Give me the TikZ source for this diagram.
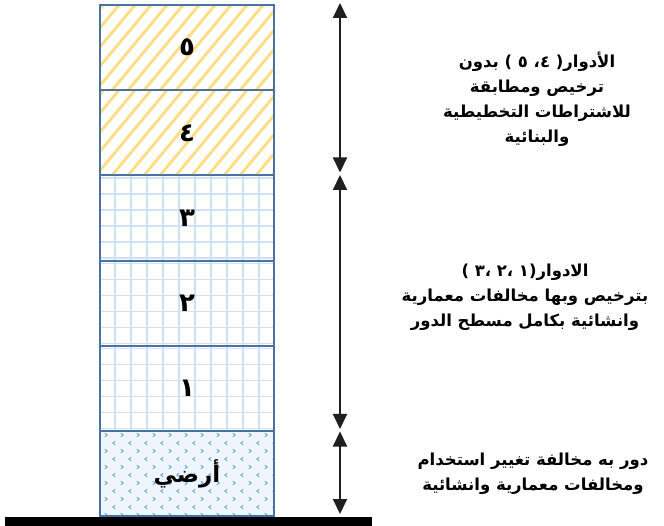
\documentclass[tikz,border=0pt]{standalone}
\usepackage{fontspec}
\usetikzlibrary{arrows.meta, positioning, calc}
\newfontfamily\arabicfont[Script=Arabic]{DejaVu Sans}
\TeXXeTstate=1
\definecolor{cFrame}{RGB}{74,114,160}
\definecolor{cStripe}{RGB}{253,222,135}
\definecolor{cGrid}{RGB}{208,225,244}
\definecolor{cGround}{RGB}{238,245,252}
\definecolor{cMark}{RGB}{80,145,215}
\tikzset{
	floorbox/.style   ={rectangle, draw=cFrame, line width=2pt, minimum width=174pt, minimum height=85.2pt, outer sep=0pt, inner sep=0pt, font=\arabicfont\bfseries\fontsize{26}{28}\selectfont},
	stripefloor/.style={fill=white, path picture={
			\foreach \k in {0,...,18}
				\draw[cStripe, line width=3pt] ($(path picture bounding box.south west)+(\k*16pt-100pt,0pt)$) -- ++(100pt,120pt);}},
	gridfloor/.style  ={fill=white, path picture={
			\draw[cGrid, line width=1.6pt] (path picture bounding box.south west) grid[step=16pt] (path picture bounding box.north east);}},
	groundfloor/.style={fill=cGround, path picture={
			\foreach \r in {0,...,10}
				\foreach \c in {0,...,10}{
					\ifodd\r
						\draw[cMark, line width=0.7pt] ($(path picture bounding box.north west)+(\c*16pt+14pt,-\r*8pt-4pt)$) ++(1.2pt,1.8pt) -- ++(-2.4pt,-1.8pt) -- ++(2.4pt,-1.8pt);
					\else
						\draw[cMark, line width=0.7pt] ($(path picture bounding box.north west)+(\c*16pt+6pt,-\r*8pt-4pt)$) ++(-1.2pt,1.8pt) -- ++(2.4pt,-1.8pt) -- ++(-2.4pt,-1.8pt);
					\fi}}},
	dimarrow/.style   ={{Triangle[length=15pt,width=14pt]}-{Triangle[length=15pt,width=14pt]}, line width=2pt, draw=black!88},
	note/.style       ={align=center, inner sep=0pt, font=\arabicfont\bfseries\fontsize{16.5}{25}\selectfont},
}
\begin{document}
\begin{tikzpicture}[x=1pt, y=-1pt]
	\useasboundingbox (0,0) rectangle (664,526);
	% floors, top to bottom
	\node[floorbox, stripefloor] (f5) at (187,47.6) {\beginR ٥\endR};
	\node[floorbox, stripefloor, below=0pt of f5] (f4) {\beginR ٤\endR};
	\node[floorbox, gridfloor, below=0pt of f4] (f3) {\beginR ٣\endR};
	\node[floorbox, gridfloor, below=0pt of f3] (f2) {\beginR ٢\endR};
	\node[floorbox, gridfloor, below=0pt of f2] (f1) {\beginR ١\endR};
	\node[floorbox, groundfloor, below=0pt of f1, font=\arabicfont\bfseries\fontsize{23}{25}\selectfont] (f0) {\beginR أرضي\endR};
	\fill[black] (5,517) rectangle (372,525.5);
	% height arrows
	\coordinate (a0) at (340,3);
	\coordinate (a1) at (340,172.5);
	\coordinate (a2) at (340,175);
	\coordinate (a3) at (340,429);
	\coordinate (a4) at (340,431.5);
	\coordinate (a5) at (340,514);
	\draw[dimarrow] (a0) -- (a1);
	\draw[dimarrow] (a2) -- (a3);
	\draw[dimarrow] (a4) -- (a5);
	% notes (lines with digits set token by token, left to right)
	\node[note] (upper) at (537,99) {\hbox{بدون}\ \hbox{)}\ \hbox{٥}\ \hbox{،}\hbox{٤}\ \hbox{(}\hbox{الأدوار}\\ \beginR ترخيص ومطابقة\endR\\ \beginR للاشتراطات التخطيطية\endR\\ \beginR والبنائية\endR};
	\node[note] (middle) at (525,297) {\hbox{)}\ \hbox{٣}\hbox{،}\ \hbox{٢}\hbox{،}\ \hbox{١}\hbox{(}\hbox{الادوار}\\ \beginR بترخيص وبها مخالفات معمارية\endR\\ \beginR وانشائية بكامل مسطح الدور\endR};
	\node[note] (lower) at (533,474) {\beginR دور به مخالفة تغيير استخدام\endR\\ \beginR ومخالفات معمارية وانشائية\endR};
\end{tikzpicture}
\end{document}
